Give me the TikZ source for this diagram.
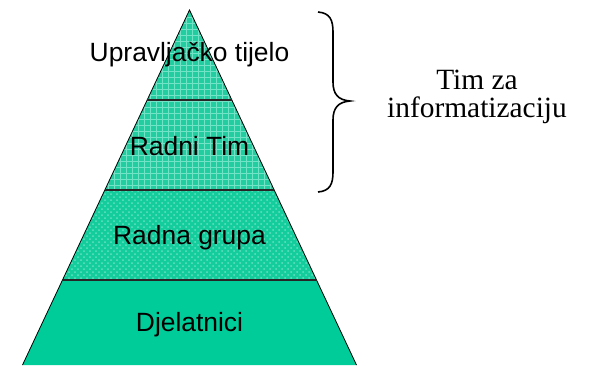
\documentclass[tikz,border=0pt]{standalone}
\usepackage{fontspec}
\setmainfont{Liberation Serif}
\setsansfont{Liberation Sans}
\usetikzlibrary{patterns}
\definecolor{teal1}{HTML}{00CC99}
\definecolor{teal2}{HTML}{22CE9F}
\definecolor{teal3}{HTML}{14CD9C}
\tikzset{
  lbl/.style={font=\sffamily\fontsize{13.2}{15}\selectfont, text=black, inner sep=0pt},
  rlbl/.style={font=\rmfamily\fontsize{14.7}{14.3}\selectfont, text=black, inner sep=0pt, align=center},
  layer/.style={draw=black, line width=0.4pt},
  divider/.style={draw=black!85, line width=1.1pt}
}
\begin{document}
\begin{tikzpicture}[x=0.5pt,y=-0.5pt]
\useasboundingbox (0,0) rectangle (599,365);
% layers
\path[fill=teal2] (189.5,10) -- (231.8,100) -- (147.2,100) -- cycle;
\path[pattern=grid, pattern color=white!45!teal1] (189.5,10) -- (231.8,100) -- (147.2,100) -- cycle;
\path[fill=teal2] (147.2,100) -- (231.8,100) -- (274.2,190) -- (104.8,190) -- cycle;
\path[pattern=grid, pattern color=white!45!teal1] (147.2,100) -- (231.8,100) -- (274.2,190) -- (104.8,190) -- cycle;
\path[fill=teal3] (104.8,190) -- (274.2,190) -- (316.5,280) -- (62.5,280) -- cycle;
\path[pattern=crosshatch dots, pattern color=white!40!teal1] (104.8,190) -- (274.2,190) -- (316.5,280) -- (62.5,280) -- cycle;
\path[fill=teal1] (62.5,280) -- (316.5,280) -- (356.5,365) -- (22.5,365) -- cycle;
% outline
\draw[layer] (22.5,365) -- (189.5,10) -- (356.5,365);
\draw[divider] (147.2,100) -- (231.8,100);
\draw[divider] (104.8,190) -- (274.2,190);
\draw[divider] (62.5,280) -- (316.5,280);
% labels
\node[lbl] (upr) at (189.5,55) {Upravljačko tijelo};
\node[lbl] (rt) at (189.5,146) {Radni Tim};
\node[lbl] (rg) at (189.5,238) {Radna grupa};
\node[lbl] (dj) at (189.5,325) {Djelatnici};
% brace
\draw[line width=0.8pt] (318,12) .. controls (330,13) and (333,20) .. (333,32)
  -- (333,82) .. controls (333,94) and (338,100) .. (350,101)
  .. controls (338,102) and (333,108) .. (333,120)
  -- (333,172) .. controls (333,184) and (330,191) .. (318,192);
\node[rlbl] (tim) at (477,97) {Tim za\\informatizaciju};
\end{tikzpicture}
\end{document}
